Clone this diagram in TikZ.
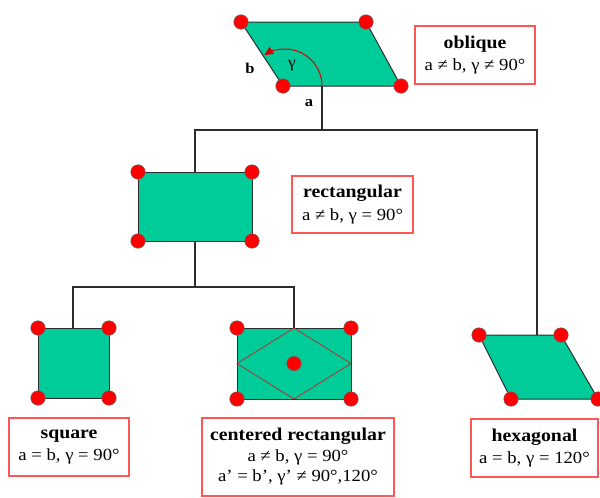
\documentclass[tikz,border=0pt]{standalone}
\usepackage{fontspec}
\setmainfont[FakeStretch=1.1]{Liberation Serif}
\usetikzlibrary{arrows.meta}
\definecolor{cellfill}{RGB}{0,204,153}
\definecolor{boxred}{RGB}{255,85,85}
\definecolor{rhomb}{RGB}{178,50,50}
\definecolor{lin}{RGB}{45,45,45}
\definecolor{arcred}{RGB}{210,0,0}
\newcommand\ttlfont{\bfseries\fontsize{18}{22.5}\selectfont}
\begin{document}
\begin{tikzpicture}[x=1pt,y=-1pt,
  cell/.style={fill=cellfill,draw=lin,line width=1pt,line join=round},
  dot/.style={circle,fill=red,draw=black!60,line width=0.5pt,minimum size=14.5pt,inner sep=0pt},
  conn/.style={draw=lin,line width=1.3pt},
  lbl/.style={draw=boxred,line width=1.2pt,fill=white,align=center,inner sep=0pt,
              font=\fontsize{17}{22.5}\selectfont},
  side/.style={inner sep=0pt,font=\bfseries\fontsize{15}{18}\selectfont}
]
\useasboundingbox (0,0) rectangle (600,498);

% ---------- oblique ----------
\coordinate (oTL) at (241,22);
\coordinate (oTR) at (366,22);
\coordinate (oBR) at (401,86);
\coordinate (oBL) at (283,86);
\coordinate (oB) at (322,86);
\filldraw[cell] (oTL) -- (oTR) -- (oBR) -- (oBL) -- cycle;
\draw[arcred,line width=1pt,-{Triangle[length=9pt,width=8pt]}] (oB) arc[start angle=0,end angle=-124,radius=37];
\node[side] (lb) at (250,68) {b};
\node[inner sep=0pt,font=\fontsize{16}{18}\selectfont] (lg) at (292,66) {γ};
\node[side] (la) at (309,103) {a};
\foreach \p in {oTL,oTR,oBR,oBL} \node[dot] (d\p) at (\p) {};

% ---------- rectangular ----------
\coordinate (rTL) at (138,172);
\coordinate (rBR) at (252,241);
\filldraw[cell] (rTL) rectangle (rBR);
\coordinate (rT) at (195,172);
\coordinate (rB) at (195,241);
\node[dot] (r1) at (138,172) {};
\node[dot] (r2) at (252,172) {};
\node[dot] (r3) at (138,241) {};
\node[dot] (r4) at (252,241) {};

% ---------- square ----------
\coordinate (sTL) at (38,328);
\coordinate (sBR) at (109,398);
\coordinate (sT) at (73,328);
\filldraw[cell] (sTL) rectangle (sBR);
\node[dot] (s1) at (38,328) {};
\node[dot] (s2) at (109,328) {};
\node[dot] (s3) at (38,398) {};
\node[dot] (s4) at (109,398) {};

% ---------- centered rectangular ----------
\coordinate (cTL) at (237,328);
\coordinate (cBR) at (351,399);
\coordinate (cT) at (294,328);
\coordinate (cL) at (237,363.5);
\coordinate (cR) at (351,363.5);
\coordinate (cBm) at (294,399);
\filldraw[cell] (cTL) rectangle (cBR);
\draw[rhomb,line width=0.8pt] (cT) -- (cR) -- (cBm) -- (cL) -- cycle;
\node[dot] (c1) at (237,328) {};
\node[dot] (c2) at (351,328) {};
\node[dot] (c3) at (237,399) {};
\node[dot] (c4) at (351,399) {};
\node[dot] (c5) at (294,363.5) {};

% ---------- hexagonal ----------
\coordinate (hTL) at (479,335);
\coordinate (hTR) at (561,335);
\coordinate (hBR) at (598,399);
\coordinate (hBL) at (511,399);
\coordinate (hT) at (537,335);
\filldraw[cell] (hTL) -- (hTR) -- (hBR) -- (hBL) -- cycle;
\foreach \p in {hTL,hTR,hBR,hBL} \node[dot] (d\p) at (\p) {};

% ---------- tree connectors ----------
\coordinate (j0) at (322,130);
\coordinate (j1) at (195,130);
\coordinate (j2) at (537,130);
\coordinate (k0) at (195,287);
\coordinate (k1) at (73,287);
\coordinate (k2) at (294,287);
\draw[conn] (oB) -- (j0);
\draw[conn] (rT) -- (j1) -- (j2) -- (hT);
\draw[conn] (rB) -- (k0);
\draw[conn] (sT) -- (k1) -- (k2) -- (cT);

% ---------- labels ----------
\node[lbl,minimum width=120pt,minimum height=58pt] (Lo) at (475,55)
  {{\ttlfont oblique}\\a ≠ b, γ ≠ 90°};
\node[lbl,minimum width=121pt,minimum height=57pt] (Lr) at (352.5,204.5)
  {{\ttlfont rectangular}\\a ≠ b, γ = 90°};
\node[lbl,minimum width=120pt,minimum height=58pt] (Ls) at (69,447)
  {{\ttlfont square}\\a = b, γ = 90°};
\node[lbl,minimum width=192pt,minimum height=78pt,font=\fontsize{17}{20.5}\selectfont] (Lc) at (298,457)
  {{\bfseries\fontsize{18}{20.5}\selectfont centered rectangular}\\a ≠ b, γ = 90°\\a’ = b’, γ’ ≠ 90°,120°};
\node[lbl,minimum width=127pt,minimum height=58pt] (Lh) at (534.5,448)
  {{\ttlfont hexagonal}\\a = b, γ = 120°};
\end{tikzpicture}
\end{document}
